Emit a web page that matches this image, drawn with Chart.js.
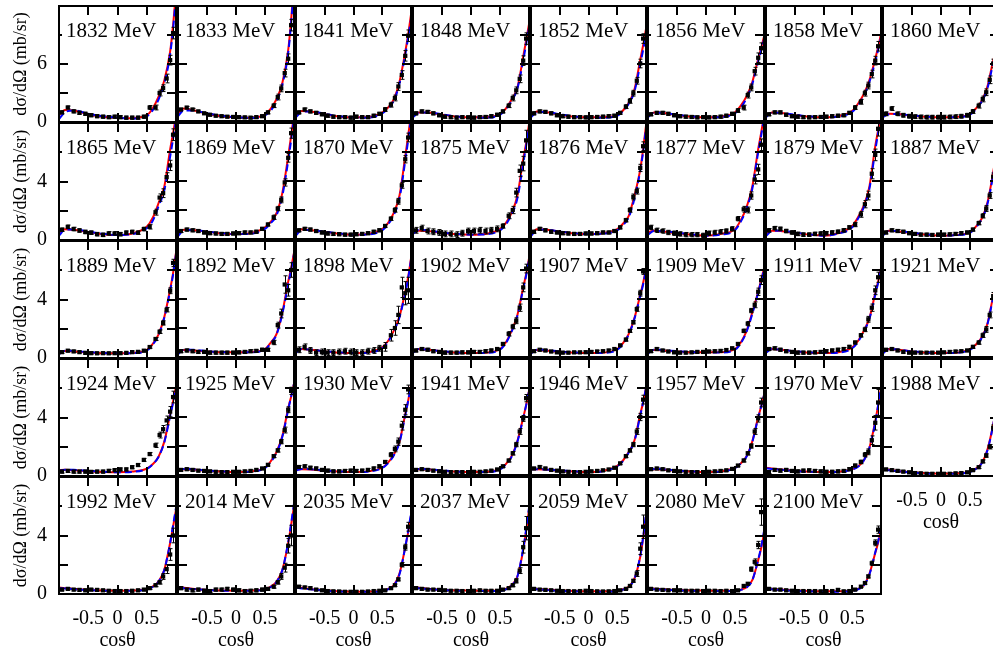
<!DOCTYPE html>
<html>
<head>
<meta charset="utf-8">
<script src="https://cdn.jsdelivr.net/npm/chart.js@4.4.0/dist/chart.umd.min.js"></script>
<style>
  body { margin: 0; background: #fff; overflow: hidden; }
  #wrap { position: relative; width: 993px; height: 655px; overflow: hidden; background: #fff; }
  #wrap canvas { position: absolute; }
</style>
</head>
<body>
<div id="wrap"></div>
<script>
// beam energies, one panel each (MeV)
var energies = [1832, 1833, 1841, 1848, 1852, 1856, 1858, 1860,
                1865, 1869, 1870, 1875, 1876, 1877, 1879, 1887,
                1889, 1892, 1898, 1902, 1907, 1909, 1911, 1921,
                1924, 1925, 1930, 1941, 1946, 1957, 1970, 1988,
                1992, 2014, 2035, 2037, 2059, 2080, 2100];

// cos(theta) nodes of the fit curves
var curveCos = [-1, -0.9, -0.75, -0.5, -0.25, 0, 0.25, 0.5, 0.6, 0.7, 0.8, 0.9, 0.95, 1];

// red solid fit (mb/sr)
var redFit = [
  [0.7,1.25,1.2,0.8,0.55,0.45,0.4,0.7,1.4,2.6,4.3,7.3,10.0,13.5],
  [0.8,1.3,1.15,0.75,0.5,0.4,0.35,0.7,1.3,2.3,4.0,7.4,10.5,14.5],
  [0.6,1.05,1.0,0.7,0.45,0.38,0.4,0.9,1.4,2.25,4.1,7.2,9.0,11.1],
  [0.5,0.9,0.9,0.65,0.45,0.38,0.4,0.72,1.3,2.25,3.5,6.7,8.4,10.1],
  [0.5,1.0,0.95,0.65,0.45,0.38,0.4,0.6,1.1,1.9,3.3,6.4,7.9,9.6],
  [0.5,0.9,0.85,0.6,0.45,0.38,0.45,0.9,1.6,2.6,4.1,6.5,7.6,8.8],
  [0.5,0.9,0.85,0.6,0.45,0.38,0.5,1.06,1.8,2.8,4.3,6.5,7.7,9.1],
  [0.5,0.75,0.72,0.55,0.42,0.38,0.42,0.72,1.3,2.1,3.6,6.3,7.3,8.5],
  [0.4,0.73,0.7,0.55,0.4,0.34,0.45,0.9,1.5,2.5,3.65,6.2,7.3,8.5],
  [0.35,0.64,0.62,0.5,0.38,0.34,0.4,0.8,1.2,1.8,3.2,5.7,7.1,8.6],
  [0.35,0.68,0.62,0.48,0.36,0.3,0.35,0.68,1.1,1.8,3.0,5.7,7.1,8.6],
  [0.4,0.57,0.55,0.42,0.33,0.3,0.35,0.68,1.1,1.8,3.0,5.5,6.6,7.9],
  [0.3,0.68,0.65,0.5,0.38,0.34,0.4,0.68,1.05,1.6,3.0,4.8,6.2,7.8],
  [0.45,0.57,0.52,0.4,0.3,0.23,0.35,0.68,1.3,2.2,3.65,6.2,7.3,8.5],
  [0.3,0.57,0.55,0.42,0.3,0.23,0.4,0.9,1.5,2.3,3.65,6.4,7.5,8.6],
  [0.35,0.57,0.53,0.4,0.3,0.23,0.28,0.45,0.85,1.4,2.5,4.6,5.8,7.0],
  [0.3,0.48,0.45,0.38,0.33,0.32,0.35,0.55,0.95,1.6,2.8,4.7,5.8,7.2],
  [0.3,0.48,0.45,0.38,0.33,0.32,0.35,0.55,1.0,1.6,3.1,5.2,6.1,7.2],
  [0.4,0.55,0.5,0.38,0.3,0.27,0.33,0.66,1.1,1.8,2.8,4.5,5.5,6.8],
  [0.35,0.55,0.5,0.38,0.3,0.27,0.3,0.55,1.0,1.8,2.9,4.8,5.7,6.8],
  [0.3,0.48,0.45,0.36,0.3,0.27,0.3,0.55,0.95,1.6,2.7,4.3,5.1,6.1],
  [0.3,0.48,0.45,0.38,0.33,0.32,0.33,0.55,1.0,1.8,3.1,4.5,5.3,6.1],
  [0.35,0.55,0.5,0.38,0.3,0.27,0.33,0.66,1.1,1.8,2.7,4.4,5.2,6.1],
  [0.3,0.55,0.5,0.38,0.3,0.27,0.3,0.55,0.85,1.35,2.3,4.2,5.0,6.0],
  [0.4,0.42,0.4,0.33,0.28,0.25,0.3,0.5,0.8,1.3,2.35,4.2,5.1,6.1],
  [0.34,0.4,0.38,0.3,0.24,0.2,0.25,0.5,0.95,1.6,2.7,4.6,5.4,6.3],
  [0.35,0.4,0.38,0.3,0.24,0.2,0.25,0.5,0.85,1.4,2.3,4.2,5.1,6.2],
  [0.3,0.4,0.38,0.3,0.22,0.2,0.22,0.4,0.75,1.3,2.35,3.95,4.8,5.8],
  [0.4,0.4,0.38,0.3,0.24,0.2,0.28,0.64,1.0,1.6,2.4,4.2,5.0,6.0],
  [0.35,0.4,0.38,0.3,0.24,0.2,0.25,0.5,0.8,1.3,2.35,4.0,4.7,5.5],
  [0.5,0.45,0.38,0.3,0.22,0.2,0.22,0.4,0.6,1.0,1.9,3.7,4.8,6.0],
  [0.5,0.42,0.35,0.25,0.18,0.15,0.18,0.3,0.5,0.87,1.8,3.5,4.6,6.0],
  [0.45,0.4,0.35,0.28,0.24,0.23,0.24,0.32,0.5,0.85,1.65,3.5,4.6,5.75],
  [0.5,0.42,0.36,0.28,0.24,0.23,0.24,0.32,0.5,0.85,1.65,3.5,4.7,6.0],
  [0.5,0.42,0.35,0.25,0.18,0.16,0.17,0.23,0.35,0.6,1.4,3.2,4.2,5.3],
  [0.5,0.42,0.36,0.28,0.24,0.23,0.22,0.23,0.35,0.6,1.2,3.0,4.3,5.75],
  [0.39,0.35,0.3,0.24,0.2,0.18,0.18,0.23,0.32,0.5,1.07,2.55,3.8,5.3],
  [0.39,0.36,0.32,0.27,0.24,0.23,0.22,0.23,0.3,0.46,0.96,2.3,3.1,4.15],
  [0.39,0.35,0.3,0.24,0.2,0.18,0.18,0.23,0.35,0.6,1.4,2.8,3.5,4.4]
];

// blue dashed fit (mb/sr)
var blueFit = [
  [0.3,1.0,1.2,0.85,0.6,0.45,0.35,0.6,1.2,2.3,4.0,7.0,9.6,13.0],
  [0.5,1.1,1.1,0.8,0.55,0.4,0.3,0.6,1.1,2.1,3.8,7.1,10.2,14.0],
  [0.4,0.95,1.0,0.75,0.5,0.38,0.35,0.8,1.3,2.1,3.9,6.9,8.7,10.6],
  [0.4,0.85,0.9,0.7,0.48,0.38,0.35,0.65,1.2,2.1,3.4,6.3,8.0,9.7],
  [0.4,0.9,0.95,0.7,0.48,0.38,0.35,0.55,1.0,1.8,3.1,5.9,7.4,9.0],
  [0.4,0.85,0.85,0.65,0.48,0.38,0.4,0.8,1.4,2.4,3.9,6.2,7.3,8.5],
  [0.4,0.85,0.85,0.65,0.48,0.38,0.45,0.95,1.6,2.6,4.1,6.2,7.4,8.7],
  [0.4,0.7,0.72,0.58,0.45,0.38,0.4,0.66,1.2,2.0,3.4,6.0,7.0,8.2],
  [0.3,0.7,0.72,0.58,0.42,0.34,0.4,0.8,1.3,2.3,3.4,5.7,6.9,8.2],
  [0.2,0.6,0.62,0.52,0.4,0.34,0.36,0.7,1.1,1.65,3.0,5.4,6.8,8.3],
  [0.25,0.62,0.62,0.5,0.38,0.3,0.32,0.6,1.0,1.65,2.8,5.4,6.8,8.3],
  [0.35,0.62,0.6,0.45,0.35,0.3,0.32,0.6,1.0,1.7,2.8,5.2,6.4,7.7],
  [0.2,0.62,0.65,0.52,0.4,0.34,0.37,0.6,0.95,1.5,2.8,4.7,6.0,7.6],
  [0.3,0.55,0.55,0.43,0.32,0.23,0.3,0.6,1.2,2.1,3.5,6.0,7.1,8.3],
  [0.2,0.55,0.58,0.45,0.32,0.23,0.36,0.8,1.4,2.2,3.5,6.1,7.3,8.4],
  [0.25,0.55,0.55,0.43,0.32,0.23,0.26,0.42,0.8,1.35,2.4,4.4,5.6,6.8],
  [0.25,0.5,0.48,0.4,0.34,0.32,0.33,0.5,0.9,1.55,2.75,4.6,5.7,7.1],
  [0.2,0.5,0.5,0.4,0.34,0.32,0.33,0.5,0.95,1.55,3.0,5.0,6.0,7.1],
  [0.3,0.55,0.52,0.4,0.32,0.27,0.3,0.6,1.05,1.75,2.75,4.4,5.4,6.7],
  [0.3,0.55,0.52,0.4,0.32,0.27,0.28,0.5,0.95,1.75,2.85,4.7,5.6,6.7],
  [0.25,0.5,0.48,0.38,0.32,0.27,0.28,0.5,0.9,1.55,2.65,4.2,5.0,6.0],
  [0.25,0.5,0.48,0.4,0.34,0.32,0.31,0.5,0.95,1.75,3.0,4.45,5.2,6.0],
  [0.3,0.55,0.52,0.4,0.32,0.27,0.3,0.6,1.05,1.75,2.65,4.3,5.1,6.0],
  [0.25,0.55,0.52,0.4,0.32,0.27,0.28,0.5,0.8,1.3,2.25,4.1,4.9,5.9],
  [0.35,0.42,0.42,0.35,0.29,0.25,0.28,0.48,0.78,1.3,2.3,4.1,5.0,6.1],
  [0.3,0.42,0.4,0.32,0.25,0.2,0.23,0.48,0.9,1.55,2.65,4.5,5.4,6.3],
  [0.3,0.42,0.4,0.32,0.25,0.2,0.23,0.48,0.8,1.35,2.25,4.1,5.1,6.2],
  [0.25,0.42,0.4,0.32,0.24,0.2,0.21,0.38,0.72,1.25,2.3,3.9,4.8,5.8],
  [0.38,0.4,0.38,0.32,0.25,0.2,0.26,0.6,0.95,1.55,2.35,4.1,5.0,6.0],
  [0.3,0.42,0.4,0.32,0.25,0.2,0.23,0.48,0.78,1.28,2.3,3.95,4.7,5.5],
  [0.45,0.42,0.36,0.28,0.22,0.2,0.21,0.38,0.58,1.0,1.9,3.6,4.8,6.1],
  [0.45,0.4,0.33,0.24,0.18,0.15,0.17,0.28,0.48,0.85,1.75,3.5,4.7,6.2],
  [0.4,0.38,0.33,0.27,0.23,0.22,0.22,0.3,0.48,0.83,1.65,3.5,4.7,5.9],
  [0.45,0.4,0.34,0.27,0.23,0.22,0.22,0.3,0.48,0.83,1.65,3.55,4.8,6.2],
  [0.45,0.38,0.32,0.23,0.17,0.15,0.15,0.2,0.32,0.58,1.35,3.2,4.3,5.5],
  [0.45,0.4,0.34,0.27,0.23,0.22,0.2,0.2,0.32,0.58,1.2,3.1,4.4,5.9],
  [0.35,0.32,0.28,0.22,0.19,0.17,0.16,0.2,0.3,0.48,1.05,2.6,3.9,5.5],
  [0.35,0.33,0.3,0.25,0.22,0.21,0.2,0.2,0.28,0.45,0.95,2.35,3.2,4.3],
  [0.35,0.32,0.28,0.22,0.19,0.17,0.16,0.2,0.32,0.58,1.35,2.85,3.6,4.6]
];

// measured points: angle bins and values (mb/sr)
var dataCos = [-0.95,-0.85,-0.75,-0.65,-0.55,-0.45,-0.35,-0.25,-0.15,-0.05,0.05,0.15,0.25,0.35,0.45,
               0.55,0.65,0.72,0.78,0.84,0.9,0.95];

var dataVal = [
  [1.0,1.5,1.1,0.95,0.85,0.7,0.6,0.55,0.5,0.55,0.5,0.45,0.45,0.45,0.55, 1.5,1.5,3.0,3.5,4.5,6.4,9.2],
  [1.2,1.4,1.2,1.0,0.8,0.65,0.55,0.5,0.45,0.42,0.4,0.38,0.35,0.4,0.5, 0.9,1.6,2.5,3.4,5.0,6.5,10.0],
  [0.9,1.2,1.0,0.85,0.7,0.55,0.45,0.4,0.4,0.35,0.45,0.4,0.4,0.55,0.75, 1.2,1.7,2.4,3.6,4.8,6.8,8.9],
  [0.8,1.0,0.95,0.8,0.6,0.45,0.4,0.35,0.4,0.38,0.35,0.4,0.42,0.5,0.65, 1.0,1.6,2.4,3.2,4.4,6.3,8.6],
  [0.8,1.0,0.95,0.8,0.6,0.5,0.45,0.4,0.4,0.38,0.4,0.42,0.45,0.5,0.55, 0.85,1.5,2.1,2.9,4.2,6.0,8.6],
  [0.7,0.85,0.85,0.75,0.6,0.5,0.45,0.42,0.38,0.4,0.38,0.4,0.45,0.55,0.75, 1.1,1.4,2.7,3.5,5.2,6.6,7.6],
  [0.7,0.9,0.9,0.65,0.5,0.45,0.4,0.38,0.4,0.42,0.45,0.5,0.55,0.6,0.85, 1.4,2.0,2.9,3.7,4.9,6.3,7.8],
  [0.75,1.3,0.75,0.6,0.5,0.45,0.42,0.4,0.4,0.4,0.4,0.42,0.45,0.5,0.6, 1.0,1.6,2.3,3.0,4.3,6.0,7.0],
  [0.7,0.9,0.75,0.65,0.55,0.5,0.4,0.35,0.45,0.45,0.4,0.5,0.55,0.5,0.75, 0.9,1.9,2.9,3.2,4.3,5.1,7.2],
  [0.55,0.65,0.6,0.55,0.45,0.4,0.38,0.35,0.35,0.38,0.4,0.45,0.45,0.5,0.7, 1.0,1.5,2.1,2.7,3.9,5.6,7.3],
  [0.6,0.7,0.65,0.55,0.45,0.38,0.35,0.33,0.3,0.3,0.33,0.35,0.4,0.5,0.6, 0.9,1.4,2.0,2.6,3.7,5.5,7.0],
  [0.6,0.75,0.55,0.5,0.45,0.35,0.35,0.3,0.4,0.55,0.55,0.6,0.55,0.6,0.7, 0.9,1.6,2.0,3.2,4.7,5.2,6.8],
  [0.5,0.7,0.6,0.5,0.45,0.4,0.38,0.35,0.35,0.38,0.38,0.4,0.45,0.45,0.55, 0.8,1.3,2.0,2.9,3.3,4.9,6.4],
  [0.8,0.6,0.55,0.45,0.4,0.35,0.3,0.3,0.3,0.25,0.4,0.45,0.5,0.55,0.7, 1.4,2.05,2.0,3.0,4.1,4.8,6.5],
  [0.6,0.75,0.7,0.55,0.45,0.35,0.3,0.3,0.35,0.38,0.4,0.45,0.5,0.6,0.8, 1.0,1.7,2.4,3.0,4.5,5.8,7.6],
  [0.45,0.6,0.55,0.5,0.4,0.35,0.3,0.3,0.28,0.3,0.3,0.32,0.35,0.4,0.45, 0.65,1.1,1.6,2.1,3.0,4.3,5.6],
  [0.4,0.5,0.45,0.4,0.35,0.33,0.32,0.33,0.32,0.33,0.33,0.35,0.4,0.42,0.5, 0.75,1.3,1.8,2.4,3.3,4.6,6.5],
  [0.4,0.45,0.4,0.35,0.35,0.3,0.3,0.3,0.3,0.3,0.32,0.35,0.4,0.42,0.5, 0.5,1.0,2.2,3.0,5.0,4.6,6.0],
  [0.5,0.7,0.45,0.3,0.35,0.3,0.3,0.35,0.4,0.35,0.3,0.3,0.4,0.45,0.6, 0.7,1.5,2.0,2.9,4.8,4.4,4.6],
  [0.45,0.55,0.5,0.4,0.35,0.3,0.3,0.3,0.32,0.32,0.35,0.35,0.4,0.45,0.55, 0.9,1.6,2.1,2.5,3.4,4.8,6.1],
  [0.4,0.5,0.45,0.38,0.32,0.3,0.3,0.32,0.32,0.33,0.35,0.38,0.4,0.45,0.55, 0.8,1.2,1.8,2.4,3.3,4.4,5.9],
  [0.4,0.55,0.45,0.38,0.32,0.3,0.3,0.32,0.35,0.35,0.38,0.4,0.42,0.48,0.6, 0.9,1.8,2.3,3.2,3.6,4.5,5.3],
  [0.55,0.6,0.5,0.4,0.35,0.3,0.3,0.3,0.32,0.35,0.4,0.45,0.5,0.55,0.7, 1.0,1.5,1.9,2.6,3.4,4.6,5.5],
  [0.5,0.55,0.45,0.35,0.3,0.3,0.3,0.3,0.3,0.3,0.32,0.35,0.38,0.4,0.45, 0.7,1.0,1.5,1.9,2.9,4.2,5.0],
  [0.3,0.35,0.3,0.3,0.3,0.28,0.3,0.3,0.35,0.4,0.45,0.45,0.6,0.75,1.1, 1.5,2.1,2.8,3.2,3.8,4.4,5.4],
  [0.35,0.4,0.35,0.3,0.28,0.25,0.22,0.2,0.2,0.22,0.22,0.25,0.28,0.35,0.45, 0.7,1.3,1.7,2.3,3.1,4.5,5.8],
  [0.55,0.6,0.5,0.45,0.35,0.3,0.25,0.25,0.28,0.3,0.28,0.3,0.35,0.45,0.6, 0.9,1.4,1.8,2.3,3.4,4.5,5.9],
  [0.35,0.4,0.35,0.3,0.25,0.22,0.2,0.2,0.2,0.2,0.22,0.22,0.25,0.3,0.38, 0.6,1.0,1.5,2.1,3.0,3.9,5.3],
  [0.45,0.55,0.45,0.35,0.3,0.25,0.22,0.2,0.2,0.22,0.25,0.28,0.32,0.38,0.5, 0.8,1.3,1.7,2.1,3.0,4.0,5.2],
  [0.4,0.45,0.4,0.32,0.28,0.25,0.22,0.2,0.2,0.2,0.22,0.25,0.28,0.32,0.42, 0.65,1.0,1.5,2.0,3.0,3.9,5.0],
  [0.2,0.35,0.3,0.35,0.28,0.25,0.3,0.32,0.28,0.25,0.22,0.22,0.25,0.28,0.4, 0.65,0.9,1.4,1.6,2.4,3.6,5.0],
  [0.45,0.4,0.35,0.3,0.25,0.2,0.18,0.15,0.15,0.15,0.15,0.15,0.18,0.2,0.25, 0.4,0.6,1.0,1.4,2.0,3.3,4.3],
  [0.3,0.35,0.3,0.28,0.25,0.3,0.28,0.25,0.22,0.2,0.2,0.2,0.22,0.25,0.3, 0.4,0.6,0.8,1.2,1.7,2.7,4.0],
  [0.4,0.3,0.25,0.3,0.22,0.2,0.3,0.3,0.35,0.3,0.25,0.2,0.22,0.25,0.3, 0.35,0.5,0.8,1.2,1.8,3.3,4.0],
  [0.5,0.45,0.4,0.3,0.25,0.2,0.18,0.17,0.15,0.15,0.15,0.15,0.17,0.2,0.22, 0.25,0.4,0.6,1.0,2.0,3.2,4.6],
  [0.4,0.35,0.3,0.3,0.28,0.25,0.22,0.22,0.2,0.2,0.22,0.25,0.22,0.22,0.22, 0.3,0.4,0.6,0.9,1.6,3.2,4.5],
  [0.35,0.3,0.28,0.25,0.22,0.2,0.2,0.18,0.2,0.22,0.2,0.18,0.17,0.18,0.2, 0.25,0.35,0.55,0.9,1.4,3.1,4.6],
  [0.35,0.3,0.28,0.25,0.25,0.25,0.22,0.22,0.22,0.2,0.22,0.22,0.2,0.22,0.2, 0.25,0.55,0.7,1.7,2.2,3.35,5.6],
  [0.35,0.3,0.3,0.25,0.22,0.2,0.2,0.2,0.2,0.18,0.2,0.2,0.28,0.18,0.2, 0.3,0.5,0.75,1.2,2.1,3.5,4.4]
];

// error on the first 15 (backward/central) points, one value per panel
var errBack = [0.15,0.12,0.15,0.15,0.15,0.15,0.15,0.2,
               0.12,0.1,0.1,0.2,0.1,0.15,0.12,0.1,
               0.08,0.1,0.2,0.1,0.08,0.08,0.1,0.08,
               0.1,0.08,0.1,0.08,0.08,0.08,0.1,0.08,
               0.08,0.1,0.08,0.08,0.08,0.08,0.08];

// errors on the 7 forward points
var errFwd = [
  [0.2,0.25,0.3,0.35,0.45,0.5,0.6], [0.15,0.2,0.3,0.35,0.4,0.5,0.6],
  [0.2,0.25,0.3,0.4,0.45,0.55,0.6], [0.15,0.2,0.3,0.35,0.4,0.5,0.6],
  [0.15,0.2,0.25,0.3,0.35,0.45,0.5], [0.2,0.25,0.3,0.35,0.4,0.5,0.55],
  [0.2,0.25,0.3,0.35,0.4,0.45,0.5], [0.2,0.25,0.3,0.35,0.4,0.45,0.5],
  [0.15,0.2,0.25,0.3,0.3,0.35,0.4], [0.1,0.15,0.15,0.2,0.25,0.3,0.35],
  [0.1,0.12,0.15,0.2,0.2,0.25,0.3], [0.15,0.2,0.25,0.3,0.4,0.5,0.7],
  [0.1,0.12,0.15,0.2,0.2,0.25,0.3], [0.15,0.2,0.2,0.25,0.3,0.35,0.4],
  [0.15,0.2,0.25,0.3,0.35,0.4,0.5], [0.1,0.12,0.15,0.2,0.2,0.25,0.3],
  [0.08,0.1,0.12,0.15,0.15,0.2,0.25], [0.1,0.15,0.2,0.3,0.6,0.4,0.5],
  [0.3,0.4,0.5,0.6,0.7,0.8,0.9], [0.1,0.15,0.15,0.2,0.25,0.3,0.3],
  [0.08,0.1,0.1,0.12,0.15,0.2,0.2], [0.1,0.12,0.15,0.15,0.2,0.25,0.3],
  [0.1,0.12,0.15,0.2,0.25,0.3,0.35], [0.1,0.12,0.15,0.2,0.2,0.25,0.3],
  [0.1,0.15,0.2,0.25,0.3,0.35,0.4], [0.08,0.1,0.12,0.15,0.2,0.2,0.25],
  [0.1,0.15,0.2,0.25,0.3,0.35,0.3], [0.08,0.1,0.12,0.15,0.2,0.2,0.25],
  [0.08,0.1,0.12,0.15,0.2,0.25,0.3], [0.08,0.1,0.12,0.15,0.2,0.25,0.3],
  [0.1,0.12,0.15,0.2,0.3,0.5,0.9], [0.06,0.08,0.1,0.12,0.15,0.2,0.25],
  [0.08,0.1,0.12,0.2,0.3,0.4,0.5], [0.08,0.1,0.12,0.2,0.3,0.5,0.7],
  [0.05,0.06,0.08,0.1,0.15,0.2,0.3], [0.06,0.08,0.1,0.15,0.2,0.4,0.8],
  [0.05,0.06,0.08,0.1,0.2,0.4,0.8], [0.05,0.06,0.08,0.15,0.2,0.25,0.9],
  [0.05,0.06,0.08,0.1,0.15,0.2,0.25]
];

// y axis per row
var rowMax = [12, 8, 8, 8, 8];
var rowStep = [3, 2, 2, 2, 2];
var rowLabel = [6, 4, 4, 4, 4];

// panel grid (pixels)
var colEdge = [59, 177, 295, 412, 530, 647, 765, 882, 1000];
var rowEdge = [5, 122, 240, 358, 476, 594];
var FONT = "'Liberation Serif', 'Times New Roman', serif";

var panelDecor = {
  id: 'panelDecor',
  afterDatasetsDraw: function (chart) {
    var ctx = chart.ctx, a = chart.chartArea, xs = chart.scales.x, ys = chart.scales.y;
    var pts = chart.data.datasets[0].data;
    ctx.save();
    ctx.beginPath();
    ctx.rect(a.left, a.top, a.right - a.left, a.bottom - a.top);
    ctx.clip();
    ctx.strokeStyle = '#000';
    ctx.lineWidth = 1;
    ctx.beginPath();
    pts.forEach(function (p) {
      var px = Math.round(xs.getPixelForValue(p.x)) + 0.5;
      var lo = ys.getPixelForValue(p.y - p.err), hi = ys.getPixelForValue(p.y + p.err);
      ctx.moveTo(px, lo); ctx.lineTo(px, hi);
      ctx.moveTo(px - 2, lo); ctx.lineTo(px + 2, lo);
      ctx.moveTo(px - 2, hi); ctx.lineTo(px + 2, hi);
    });
    ctx.stroke();
    ctx.restore();
  },
  afterDraw: function (chart, args, opts) {
    var ctx = chart.ctx, a = chart.chartArea, xs = chart.scales.x, ys = chart.scales.y;
    ctx.save();
    ctx.strokeStyle = '#000';
    ctx.lineWidth = 2;
    ctx.strokeRect(a.left, a.top, a.right - a.left, a.bottom - a.top);
    ctx.beginPath();
    [-0.5, 0, 0.5].forEach(function (v) {
      var px = Math.round(xs.getPixelForValue(v));
      ctx.moveTo(px, a.bottom); ctx.lineTo(px, a.bottom - 9);
      ctx.moveTo(px, a.top); ctx.lineTo(px, a.top + 9);
    });
    for (var v = opts.step; v < opts.max; v += opts.step) {
      var py = Math.round(ys.getPixelForValue(v));
      ctx.moveTo(a.left, py); ctx.lineTo(a.left + 9, py);
      ctx.moveTo(a.right, py); ctx.lineTo(a.right - 9, py);
    }
    ctx.stroke();
    // energy label on a white box
    ctx.font = '21px ' + FONT;
    var w = ctx.measureText(opts.label).width;
    ctx.fillStyle = '#fff';
    ctx.fillRect(a.left + 3, a.top + 12, w + 7, 24);
    ctx.fillStyle = '#000';
    ctx.textBaseline = 'alphabetic';
    ctx.fillText(opts.label, a.left + 7, a.top + 31);
    ctx.restore();
  }
};

var wrap = document.getElementById('wrap');

energies.forEach(function (e, i) {
  var row = Math.floor(i / 8), col = i % 8;
  var L = colEdge[col], T = rowEdge[row];
  var W = colEdge[col + 1] - L, H = rowEdge[row + 1] - T;
  var isLeft = col === 0;
  var isBottom = row === 4 || (row === 3 && col === 7);
  var axisW = isLeft ? 57 : 0, axisH = isBottom ? 59 : 0;
  var padL = isLeft ? 2 : 3, padR = 3, padT = 3;
  var padB = isBottom ? 2 : (isLeft ? 16 : 3);
  var cw = padL + axisW + W + padR, ch = padT + H + axisH + padB;

  var cv = document.createElement('canvas');
  cv.width = cw; cv.height = ch;
  cv.style.width = cw + 'px'; cv.style.height = ch + 'px';
  cv.style.left = (L - padL - axisW) + 'px';
  cv.style.top = (T - padT) + 'px';
  wrap.appendChild(cv);

  var pts = dataCos.map(function (c, k) {
    return { x: c, y: dataVal[i][k], err: k < 15 ? errBack[i] : errFwd[i][k - 15] };
  });
  var red = curveCos.map(function (c, k) { return { x: c, y: redFit[i][k] }; });
  var blue = curveCos.map(function (c, k) { return { x: c, y: blueFit[i][k] }; });

  var ymax = rowMax[row], ystep = rowStep[row], ylab = rowLabel[row];

  new Chart(cv, {
    type: 'scatter',
    data: {
      datasets: [
        { data: pts, pointStyle: 'rect', pointRadius: 3, pointBorderWidth: 0,
          pointBackgroundColor: '#000', backgroundColor: '#000', borderColor: '#000' },
        { data: blue, showLine: true, borderColor: '#0000ff', borderWidth: 2, borderDash: [7, 4],
          pointRadius: 0, cubicInterpolationMode: 'monotone', fill: false },
        { data: red, showLine: true, borderColor: '#ff0000', borderWidth: 2,
          pointRadius: 0, cubicInterpolationMode: 'monotone', fill: false }
      ]
    },
    options: {
      responsive: false,
      animation: false,
      devicePixelRatio: 1,
      events: [],
      layout: { padding: { left: padL, right: padR, top: padT, bottom: padB } },
      plugins: {
        legend: { display: false },
        tooltip: { enabled: false },
        panelDecor: { label: e + ' MeV', step: ystep, max: ymax }
      },
      scales: {
        x: {
          type: 'linear', min: -1, max: 1, display: isBottom,
          afterFit: function (s) { s.height = axisH; s.paddingLeft = 0; s.paddingRight = 0; s.paddingTop = 0; s.paddingBottom = 0; },
          grid: { display: false, drawTicks: false },
          border: { display: false },
          ticks: {
            stepSize: 0.5, autoSkip: false, maxRotation: 0, padding: 13, color: '#000',
            font: { family: FONT, size: 20 },
            callback: function (v) {
              if (Math.abs(v + 0.5) < 1e-6) return '-0.5';
              if (Math.abs(v) < 1e-6) return '0';
              if (Math.abs(v - 0.5) < 1e-6) return '0.5';
              return '';
            }
          },
          title: { display: true, text: 'cos\u03b8', color: '#000',
                   font: { family: FONT, size: 20 }, padding: { top: 0, bottom: 0 } }
        },
        y: {
          type: 'linear', min: 0, max: ymax, display: isLeft,
          afterFit: function (s) { s.width = axisW; s.paddingLeft = 0; s.paddingRight = 0; s.paddingTop = 0; s.paddingBottom = 0; },
          grid: { display: false, drawTicks: false },
          border: { display: false },
          ticks: {
            stepSize: ystep, padding: 12, color: '#000',
            font: { family: FONT, size: 20 },
            callback: function (v) {
              return (Math.abs(v) < 1e-6 || Math.abs(v - ylab) < 1e-6) ? String(v) : '';
            }
          },
          title: { display: true, text: 'd\u03c3/d\u03a9 (mb/sr)', color: '#000',
                   font: { family: FONT, size: 18 }, padding: { top: 8, bottom: 0 } }
        }
      }
    },
    plugins: [panelDecor]
  });
});
</script>
</body>
</html>
